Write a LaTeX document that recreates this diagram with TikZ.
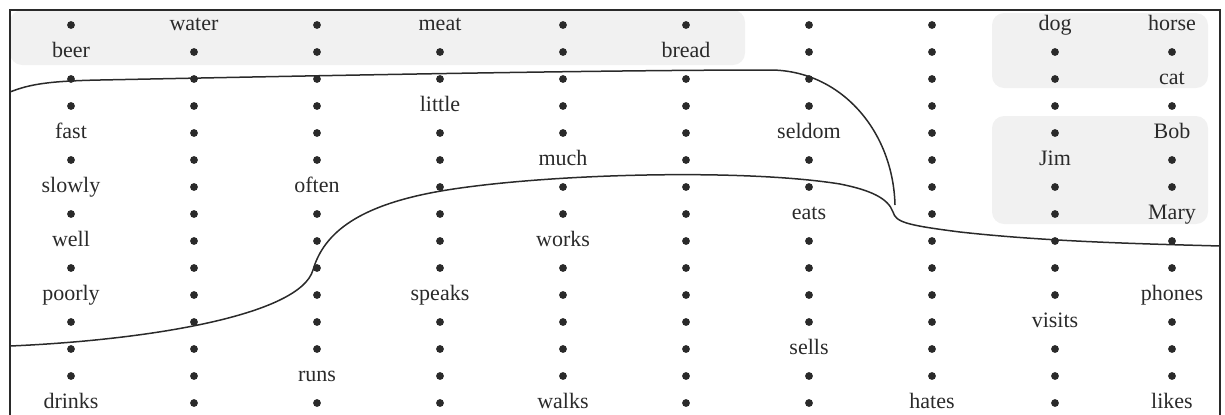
\documentclass[tikz,border=0pt]{standalone}
\usepackage{fontspec}
\setmainfont{Liberation Serif}
\usepackage{xcolor}
\usepackage{tikz}
\definecolor{ink}{HTML}{2A2A2A}
\definecolor{zone}{HTML}{F1F1F1}
\def\dotmark{*}

\begin{document}
\begin{tikzpicture}[x=0.5pt,y=-0.5pt,
  dot/.style={circle,fill=ink,inner sep=0pt,minimum size=3.9pt},
  word/.style={anchor=base,inner sep=0pt,text=ink,font=\fontsize{11}{13}\selectfont},
  zonebox/.style={fill=zone,rounded corners=6pt},
  border/.style={draw=ink,line width=0.8pt},
  split/.style={draw=ink,line width=0.75pt}
]
\useasboundingbox (0,0) rectangle (1225,414);
% shaded groups
\fill[zonebox] (10,10) rectangle (745,65);
\fill[zonebox] (992,13) rectangle (1208,88);
\fill[zonebox] (992,116) rectangle (1208,224);
\draw[border] (10,430) |- (1220,10) -- (1220,430);
% word grid, one list per column, * is an empty slot
\foreach \words [count=\c] in {
  {*,beer,*,*,fast,*,slowly,*,well,*,poorly,*,*,*,drinks},
  {water,*,*,*,*,*,*,*,*,*,*,*,*,*,*},
  {*,*,*,*,*,*,often,*,*,*,*,*,*,runs,*},
  {meat,*,*,little,*,*,*,*,*,*,speaks,*,*,*,*},
  {*,*,*,*,*,much,*,*,works,*,*,*,*,*,walks},
  {*,bread,*,*,*,*,*,*,*,*,*,*,*,*,*},
  {*,*,*,*,seldom,*,*,eats,*,*,*,*,sells,*,*},
  {*,*,*,*,*,*,*,*,*,*,*,*,*,*,hates},
  {dog,*,*,*,*,Jim,*,*,*,*,*,visits,*,*,*},
  {horse,*,cat,*,Bob,*,*,Mary,*,*,phones,*,*,*,likes}}{
  \foreach \w [count=\r] in \words {
    \edef\thisw{\w}
    \ifx\thisw\dotmark
      \node[dot] (w-\c-\r) at ({71+123*(\c-1)-6*(\c>9)},{27*\r-2}) {};
    \else
      \node[word] (w-\c-\r) at ({71+123*(\c-1)-6*(\c>9)},{27*\r+3}) {\w};
    \fi
  }
}
% upper boundary
\draw[split] (10,92) .. controls (30,84) and (50,81) .. (100,80)
  .. controls (300,76) and (600,70) .. (770,70)
  .. controls (840,70) and (893,130) .. (895,205);
% lower boundary
\draw[split] (10,346) .. controls (150,340) and (300,315) .. (313,270)
  .. controls (324,232) and (360,205) .. (441,191)
  .. controls (540,174) and (740,168) .. (840,184)
  .. controls (870,190) and (888,198) .. (893,212)
  .. controls (896,222) and (905,225) .. (960,232)
  .. controls (1050,242) and (1150,244) .. (1220,246);
\end{tikzpicture}
\end{document}
